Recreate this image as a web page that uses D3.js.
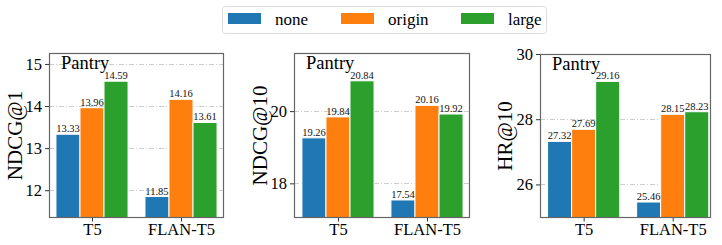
<!DOCTYPE html>
<html>
<head>
<meta charset="utf-8">
<script src="https://cdn.jsdelivr.net/npm/d3@7/dist/d3.min.js"></script>
<style>
  body { margin: 0; background: #fff; }
  svg text { font-family: "Liberation Serif", "Times New Roman", "DejaVu Serif", serif !important; }
</style>
</head>
<body>
<div id="wrapper"></div>
<script>
// data
const models = ["T5", "FLAN-T5"] ;
const seriesNames = ["none", "origin", "large"] ;
const seriesColors = ["#1f77b4", "#ff7f0e", "#2ca02c"] ;

const metricNames = ["NDCG@1", "NDCG@10", "HR@10"] ;
const ndcg1Values  = [[13.33, 13.96, 14.59], [11.85, 14.16, 13.61]] ;
const ndcg10Values = [[19.26, 19.84, 20.84], [17.54, 20.16, 19.92]] ;
const hr10Values   = [[27.32, 27.69, 29.16], [25.46, 28.15, 28.23]] ;
const ndcg1Ticks  = [12, 13, 14, 15] ;
const ndcg10Ticks = [18, 20] ;
const hr10Ticks   = [26, 28, 30] ;

const datasetName = "Pantry" ;

// layout of each panel (pixel boxes, axis limits)
const panels = [
  {name: metricNames[0], values: ndcg1Values,  ticks: ndcg1Ticks,  ylim: [11.34, 15.26], xlim: [-0.483, 1.483],
   box: {left: 49,  right: 224, top: 53, bottom: 218}, labelX: 15},
  {name: metricNames[1], values: ndcg10Values, ticks: ndcg10Ticks, ylim: [17.04, 21.61], xlim: [-0.494, 1.483],
   box: {left: 294, right: 470, top: 53, bottom: 218}, labelX: 260},
  {name: metricNames[2], values: hr10Values,   ticks: hr10Ticks,   ylim: [24.97, 30.0],  xlim: [-0.49, 1.43],
   box: {left: 540, right: 711, top: 54, bottom: 218}, labelX: 505},
] ;

const barWidth = 0.27 ;

const svg = d3.select("#wrapper").append("svg")
  .attr("width", 722)
  .attr("height", 245) ;

function drawPanel(p) {
  const xScale = d3.scaleLinear().domain(p.xlim).range([p.box.left, p.box.right]) ;
  const yScale = d3.scaleLinear().domain(p.ylim).range([p.box.bottom, p.box.top]) ;
  const g = svg.append("g") ;

  // grid lines
  g.selectAll("line.grid")
    .data(p.ticks)
    .enter().append("line")
      .attr("class", "grid")
      .attr("x1", p.box.left).attr("x2", p.box.right)
      .attr("y1", (d) => Math.round(yScale(d)) + 0.5)
      .attr("y2", (d) => Math.round(yScale(d)) + 0.5)
      .attr("stroke", "#c8c8c8")
      .attr("stroke-width", 0.9)
      .attr("stroke-dasharray", "5,2,1,2") ;

  // bars
  const flat = [] ;
  p.values.forEach((row, i) => row.forEach((v, j) => flat.push({model: i, series: j, value: v}))) ;
  const xOf = (d) => d.model + (d.series - 1) * barWidth ;

  g.selectAll("rect.bar")
    .data(flat)
    .enter().append("rect")
      .attr("class", "bar")
      .attr("x", (d) => xScale(xOf(d) - barWidth / 2))
      .attr("width", (d) => xScale(barWidth) - xScale(0))
      .attr("y", (d) => yScale(d.value))
      .attr("height", (d) => p.box.bottom - yScale(d.value))
      .attr("fill", (d) => seriesColors[d.series])
      .attr("stroke", "#fff")
      .attr("stroke-width", 1) ;

  // value labels
  g.selectAll("text.val")
    .data(flat)
    .enter().append("text")
      .attr("class", "val")
      .attr("x", (d) => xScale(xOf(d)))
      .attr("y", (d) => yScale(d.value) - 2)
      .attr("text-anchor", "middle")
      .attr("font-size", 10.5)
      .attr("fill", "#111")
      .text((d) => d.value.toFixed(2)) ;

  // frame
  g.append("rect")
    .attr("x", p.box.left + 0.5).attr("y", p.box.top + 0.5)
    .attr("width", p.box.right - p.box.left - 1)
    .attr("height", p.box.bottom - p.box.top - 1)
    .attr("fill", "none")
    .attr("stroke", "#666")
    .attr("stroke-width", 1.2) ;

  // axes
  const yAxis = d3.axisLeft(yScale).tickValues(p.ticks).tickSize(4).tickPadding(3).tickFormat(d3.format("d")) ;
  const ya = g.append("g").attr("transform", `translate(${p.box.left},0)`).call(yAxis) ;
  ya.select(".domain").remove() ;
  ya.selectAll("text").attr("font-size", 16.5).attr("fill", "#000") ;
  ya.selectAll("line").attr("stroke", "#333") ;

  const xAxis = d3.axisBottom(xScale).tickValues([0, 1]).tickFormat((d) => models[d]).tickSize(3.5).tickPadding(2) ;
  const xa = g.append("g").attr("transform", `translate(0,${p.box.bottom})`).call(xAxis) ;
  xa.select(".domain").remove() ;
  xa.selectAll("text").attr("font-size", 16.5).attr("fill", "#000") ;
  xa.selectAll("line").attr("stroke", "#333") ;

  // y label
  g.append("text")
    .attr("transform", `translate(${p.labelX + 7},${(p.box.top + p.box.bottom) / 2}) rotate(-90)`)
    .attr("text-anchor", "middle")
    .attr("font-size", 21)
    .text(p.name) ;

  // dataset name
  g.append("text")
    .attr("x", p.box.left + 12)
    .attr("y", p.box.top + 15.5)
    .attr("font-size", 18.5)
    .text(datasetName) ;
}

panels.forEach(drawPanel) ;

// legend
const legend = svg.append("g") ;
legend.append("rect")
  .attr("x", 222.5).attr("y", 6.5)
  .attr("width", 324).attr("height", 27)
  .attr("rx", 3)
  .attr("fill", "#fff")
  .attr("stroke", "#ddd") ;
const legX = [228, 341, 461] ;
seriesNames.forEach((s, i) => {
  legend.append("rect")
    .attr("x", legX[i]).attr("y", 13)
    .attr("width", 33).attr("height", 11)
    .attr("fill", seriesColors[i]) ;
  legend.append("text")
    .attr("x", legX[i] + 47).attr("y", 25)
    .attr("font-size", 17)
    .text(s) ;
}) ;
</script>
</body>
</html>
